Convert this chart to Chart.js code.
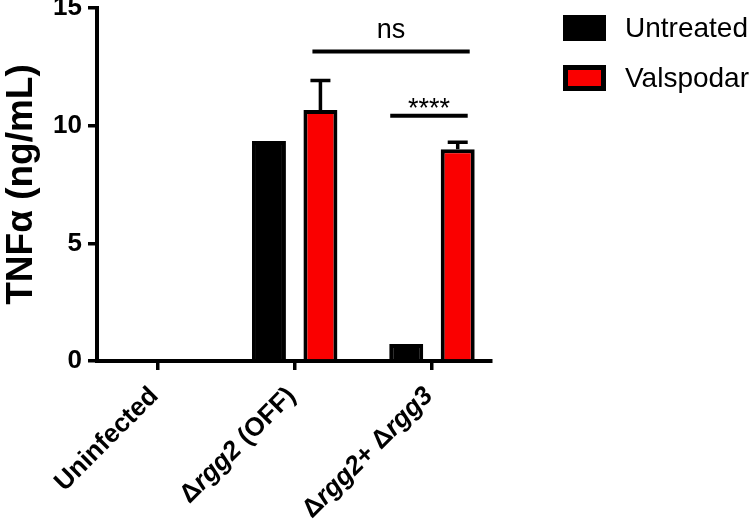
<!DOCTYPE html>
<html>
<head>
<meta charset="utf-8">
<script src="https://cdn.jsdelivr.net/npm/chart.js@4.4.0/dist/chart.umd.min.js"></script>
<style>
  html, body { margin: 0; padding: 0; background: #fff; }
  #wrap { width: 750px; height: 520px; }
</style>
</head>
<body>
<div id="wrap"><canvas id="myChart" width="750" height="520"></canvas></div>
<script>
const categories = ['Uninfected', 'Δrgg2 (OFF)', 'Δrgg2+ Δrgg3']
const italicWords = ['rgg2', 'rgg3']
const seriesNames = ['Untreated', 'Valspodar']
const untreated = [0, 9.35, 0.72]
const valspodar = [0, 10.67, 9.0]
const untreatedErr = [0, 0, 0]
const valspodarErr = [0, 1.25, 0.3]
const yTicks = [0, 5, 10, 15]
// brackets: [dataset, index] start and end, height (ng/mL), label
const sigFrom = [[1, 1], [0, 2]]
const sigTo = [[1, 2], [1, 2]]
const sigHeights = [13.15, 10.42]
const sigLabels = ['ns', '****']

const FONT = "'Liberation Sans', Arial, Helvetica, sans-serif"
Chart.defaults.font.family = FONT
Chart.defaults.color = '#000'

const errors = [untreatedErr, valspodarErr]

function points(arr) {
    return arr.map(function (v, i) { return { x: i, y: v } })
}

const extras = {
    id: 'extras',
    afterDatasetsDraw(chart) {
        const ctx = chart.ctx
        const y = chart.scales.y
        const x = chart.scales.x
        ctx.save()
        ctx.strokeStyle = '#000'
        ctx.fillStyle = '#000'

        // error bars (upper only)
        chart.data.datasets.forEach(function (ds, i) {
            const meta = chart.getDatasetMeta(i)
            ds.data.forEach(function (p, j) {
                const e = errors[i][j]
                if (!e) return
                const el = meta.data[j]
                const top = y.getPixelForValue(p.y + e)
                ctx.lineWidth = 3.5
                ctx.beginPath()
                ctx.moveTo(el.x, el.y)
                ctx.lineTo(el.x, top)
                ctx.moveTo(el.x - 10, top)
                ctx.lineTo(el.x + 10, top)
                ctx.stroke()
            })
        })

        // significance lines
        const pads = [[-8, 12], [-16, 10]]
        sigLabels.forEach(function (lab, k) {
            const a = chart.getDatasetMeta(sigFrom[k][0]).data[sigFrom[k][1]]
            const b = chart.getDatasetMeta(sigTo[k][0]).data[sigTo[k][1]]
            const ly = y.getPixelForValue(sigHeights[k])
            const x1 = a.x + pads[k][0]
            const x2 = b.x + pads[k][1]
            ctx.lineWidth = 4
            ctx.beginPath()
            ctx.moveTo(x1, ly)
            ctx.lineTo(x2, ly)
            ctx.stroke()
            ctx.font = '27px ' + FONT
            ctx.textAlign = 'center'
            ctx.textBaseline = 'alphabetic'
            ctx.fillText(lab, (x1 + x2) / 2, k === 0 ? ly - 14 : ly + 1)
        })

        // rotated category labels with italic gene names
        const re = new RegExp('(' + italicWords.join('|') + ')')
        categories.forEach(function (c, i) {
            const px = x.getPixelForValue(i)
            const parts = c.split(re).filter(function (p) { return p !== '' })
            ctx.save()
            ctx.translate(px - 3, chart.chartArea.bottom + 31)
            ctx.rotate(-Math.PI / 4)
            ctx.textAlign = 'left'
            ctx.textBaseline = 'middle'
            let w = 0
            const fonts = parts.map(function (p) {
                const f = (italicWords.includes(p) ? 'italic ' : '') + 'bold 26px ' + FONT
                ctx.font = f
                w += ctx.measureText(p).width
                return f
            })
            let cx = -w
            parts.forEach(function (p, k) {
                ctx.font = fonts[k]
                ctx.fillText(p, cx, 0)
                cx += ctx.measureText(p).width
            })
            ctx.restore()
        })

        // legend
        chart.data.datasets.forEach(function (ds, i) {
            const bx = 563, by = 15 + i * 50
            ctx.fillStyle = '#000'
            ctx.fillRect(bx, by, 43, 26)
            if (ds.backgroundColor !== '#000') {
                ctx.fillStyle = ds.backgroundColor
                ctx.fillRect(bx + 5, by + 5, 33, 16)
            }
            ctx.fillStyle = '#000'
            ctx.font = '28px ' + FONT
            ctx.textAlign = 'left'
            ctx.textBaseline = 'middle'
            ctx.fillText(ds.label, 625, by + 14)
        })
        ctx.restore()
    }
}

const chart = new Chart(document.getElementById('myChart'), {
    type: 'bar',
    data: {
        datasets: [{
            label: seriesNames[0],
            data: points(untreated),
            backgroundColor: '#000',
            borderColor: '#000',
            borderWidth: 4
        }, {
            label: seriesNames[1],
            data: points(valspodar),
            backgroundColor: 'rgb(250, 0, 0)',
            borderColor: '#000',
            borderWidth: 4
        }]
    },
    options: {
        responsive: false,
        animation: false,
        categoryPercentage: 0.75,
        barPercentage: 0.66,
        layout: { padding: { top: 8, right: 259, bottom: 0, left: 0 } },
        plugins: { legend: { display: false }, tooltip: { enabled: false } },
        scales: {
            x: {
                type: 'linear',
                min: -0.44,
                max: 2.43,
                offset: false,
                grid: { offset: false, drawOnChartArea: false, drawTicks: true, tickLength: 9, lineWidth: 3.5, color: '#000' },
                border: { display: true, width: 4, color: '#000' },
                afterBuildTicks: function (s) { s.ticks = categories.map(function (c, i) { return { value: i } }) },
                ticks: { callback: function () { return '' } },
                afterFit: function (s) { s.height = 159; s.paddingLeft = 0; s.paddingRight = 0 }
            },
            y: {
                min: 0,
                max: 15,
                grid: { drawOnChartArea: false, drawTicks: true, tickLength: 9, lineWidth: 3.5, color: '#000' },
                border: { display: true, width: 4, color: '#000' },
                afterBuildTicks: function (s) { s.ticks = yTicks.map(function (v) { return { value: v } }) },
                ticks: { padding: 6, font: { size: 26, weight: 'bold' }, color: '#000' },
                title: { display: true, text: 'TNFα (ng/mL)', font: { size: 37, weight: 'bold' }, color: '#000', padding: 0 },
                afterFit: function (s) { s.width = 97; s.paddingTop = 0; s.paddingBottom = 0 }
            }
        }
    },
    plugins: [extras]
})
</script>
</body>
</html>
